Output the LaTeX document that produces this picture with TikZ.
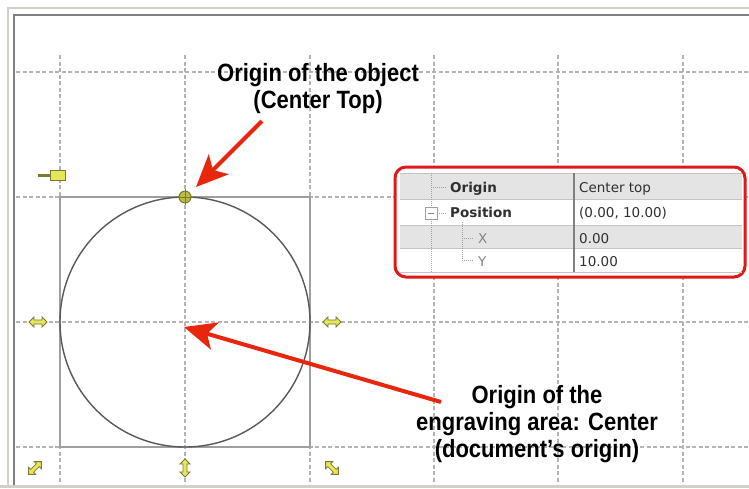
\documentclass[tikz,border=0pt]{standalone}
\usepackage{fontspec}
\setmainfont{DejaVu Sans}
\newfontfamily\annfont[FakeStretch=0.88]{Liberation Sans}
\usetikzlibrary{arrows.meta}
\definecolor{frameb}{HTML}{D4D0C8}
\definecolor{framed}{HTML}{808080}
\definecolor{gridc}{HTML}{B4B4B4}
\definecolor{arrowred}{HTML}{E8260E}
\definecolor{boxred}{HTML}{E01818}
\definecolor{iconfill}{HTML}{E6E65A}
\definecolor{iconline}{HTML}{7A7A30}
\definecolor{rowgray}{HTML}{E4E4E4}
\definecolor{sepgray}{HTML}{C4C4C4}
\definecolor{treegray}{HTML}{A0A0A0}
\definecolor{txtdark}{HTML}{303030}
\definecolor{txtgray}{HTML}{858585}
\tikzset{
  dblarrow/.pic={\filldraw[fill=iconfill, draw=iconline, line width=0.8pt]
    (-9,0) -- (-4,-5) -- (-4,-2) -- (4,-2) -- (4,-5) -- (9,0) -- (4,5) -- (4,2) -- (-4,2) -- (-4,5) -- cycle;}
}
\begin{document}
\begin{tikzpicture}[x=1pt,y=-1pt,
  gridline/.style={gridc, line width=1.2pt, dash pattern=on 4pt off 2.5pt},
  annot/.style={font=\annfont\bfseries\fontsize{25}{27}\selectfont, align=center, inner sep=0pt, text=black},
  redarrow/.style={arrowred, line width=4pt, -{Stealth[length=32pt, width=28pt, inset=8pt]}},
  cell/.style={anchor=base west, inner sep=0pt, font=\fontsize{13.5}{16}\selectfont, text=txtdark},
  keycell/.style={cell, font=\bfseries\fontsize{13.5}{16}\selectfont, text=txtdark},
  subcell/.style={cell, text=txtgray},
  treeline/.style={treegray, line width=0.8pt, dash pattern=on 1pt off 1pt}
]
\useasboundingbox (0,0) rectangle (749,488);
% window frame
\fill[white] (0,0) rectangle (749,488);
\draw[frameb, line width=2pt] (8,486) -- (8,8) -- (749,8);
\fill[frameb] (0,485) rectangle (749,488);
\draw[framed, line width=2pt] (14,485) -- (14,15) -- (749,15);
% grid
\foreach \gx in {60,185,310,434,558,683} \draw[gridline] (\gx,55) -- (\gx,484);
\foreach \gy in {72,197,322,447} \draw[gridline] (16,\gy) -- (749,\gy);
% object
\draw[gray!75, line width=2.5pt] (60,197) rectangle (310,447);
\draw[black!65, line width=1.4pt] (185,322) circle[radius=125];
% handles
\draw[iconline, line width=3pt] (38,175) -- (51,175);
\filldraw[fill=iconfill, draw=iconline, line width=0.8pt] (50,170) rectangle (65,180);
\filldraw[fill=iconfill!60!iconline, draw=iconline, line width=1pt] (185,197) circle[radius=6];
\draw[iconline, line width=0.8pt] (177,197) -- (193,197) (185,189) -- (185,205);
\pic at (38,322) {dblarrow};
\pic at (332,322) {dblarrow};
\pic[rotate=90] at (185,468) {dblarrow};
\pic[rotate=45] at (35,468) {dblarrow};
\pic[rotate=-45] at (332,468) {dblarrow};
% property table
\filldraw[fill=white, draw=boxred, line width=3pt, rounded corners=11pt] (395,167) rectangle (745,277);
\fill[rowgray] (400,173) rectangle (742,199);
\fill[rowgray] (400,225) rectangle (742,248);
\draw[sepgray, line width=0.8pt] (400,173) -- (742,173) (400,199) -- (742,199) (400,225) -- (742,225) (400,248) -- (742,248) (400,272) -- (742,272);
\draw[gray, line width=1.5pt] (574,173) -- (574,272);
\draw[treeline] (431,173) -- (431,207) (431,219) -- (431,272);
\draw[treeline] (431,187) -- (446,187) (437,213) -- (446,213);
\draw[treeline] (462,222) -- (462,260) (462,238) -- (473,238) (462,260) -- (473,260);
\filldraw[fill=white, draw=treegray, line width=0.8pt] (425,207) rectangle (437,219);
\draw[txtgray, line width=0.8pt] (428,213) -- (434,213);
\node[keycell] (korigin) at (450,192) {Origin};
\node[cell] (vorigin) at (579,192) {Center top};
\node[keycell] (kpos) at (450,217) {Position};
\node[cell] (vpos) at (579,217) {(0.00, 10.00)};
\node[subcell] (kx) at (478,243) {X};
\node[cell] (vx) at (579,243) {0.00};
\node[subcell] (ky) at (478,266) {Y};
\node[cell] (vy) at (579,266) {10.00};
% annotations
\node[annot] (objlabel) at (318,89) {Origin of the object\\(Center Top)};
\node[annot] (doclabel) at (537,424) {Origin of the\\engraving area: Center\\(document’s origin)};
\coordinate (objtail) at (262,121);
\coordinate (objtip) at (196,187);
\coordinate (doctail) at (441,402);
\coordinate (doctip) at (184,327);
\draw[redarrow] (objtail) -- (objtip);
\draw[redarrow] (doctail) -- (doctip);
\end{tikzpicture}
\end{document}
